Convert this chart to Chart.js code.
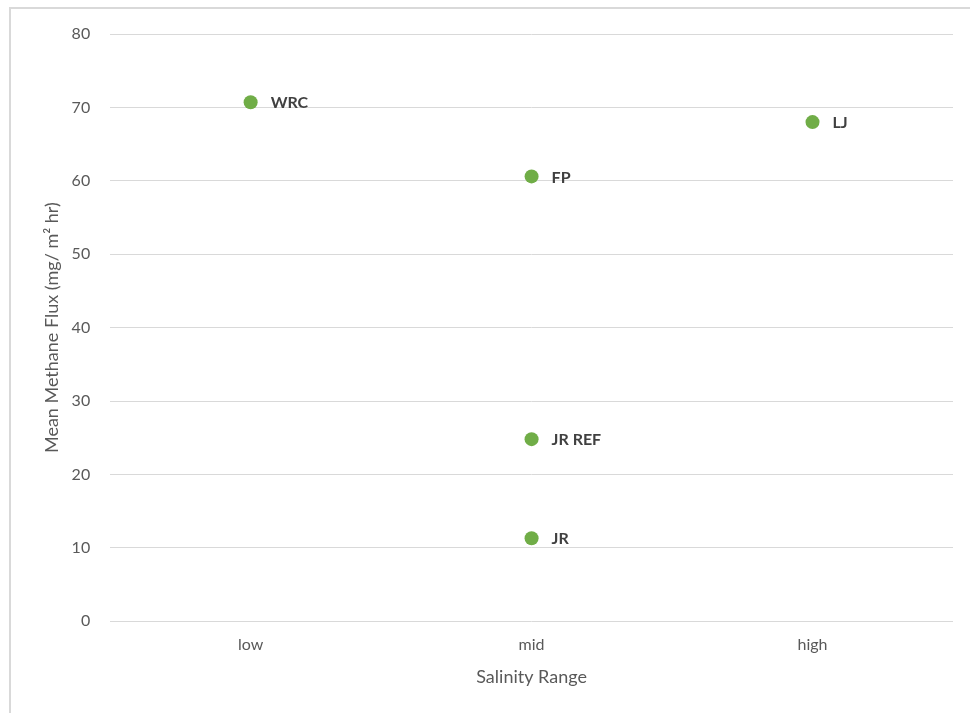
<!DOCTYPE html>
<html>
<head>
<meta charset="utf-8">
<script src="https://cdn.jsdelivr.net/npm/chart.js@4/dist/chart.umd.min.js"></script>
<style>
    html, body { margin: 0; padding: 0; background: #fff; overflow: hidden; }
    #frame {
        position: absolute; left: 9px; top: 7px;
        width: 1000px; height: 800px;
        border: 2px solid #d9d9d9;
    }
    #chart { position: absolute; left: 0; top: 0; }
</style>
</head>
<body>
<div id="frame"></div>
<canvas id="chart" width="970" height="713"></canvas>
<script>
// ==========================
// DATA
// ==========================

const categories  = ['low', 'mid', 'high'];
const siteNames   = ['WRC', 'FP', 'JR REF', 'JR', 'LJ'];
const siteRanges  = ['low', 'mid', 'mid', 'mid', 'high'];
const methaneFlux = [70.7, 60.6, 24.8, 11.3, 68.0];

const FONT_FAMILY = 'Lato, "Open Sans", sans-serif';
const TICK_FONT   = { family: FONT_FAMILY, size: 16 };
const TITLE_FONT  = { family: FONT_FAMILY, size: 18 };

// labels next to each point
const pointLabels = {
    id: 'pointLabels',
    afterDatasetsDraw(chart) {
        const ctx  = chart.ctx;
        const meta = chart.getDatasetMeta(0);
        ctx.save();
        ctx.font = 'bold 16px ' + FONT_FAMILY;
        ctx.fillStyle = '#404040';
        ctx.textAlign = 'left';
        ctx.textBaseline = 'middle';
        meta.data.forEach((pt, i) => {
            ctx.fillText(siteNames[i], pt.x + 20, pt.y + 1);
        });
        ctx.restore();
    }
};

new Chart(document.getElementById('chart'), {
    type: 'line',
    data: {
        labels: categories,
        datasets: [{
            data: siteRanges.map((r, i) => ({ x: r, y: methaneFlux[i] })),
            showLine: false,
            pointRadius: 7,
            pointHoverRadius: 7,
            pointBorderWidth: 0,
            pointBackgroundColor: '#70AD47',
            borderColor: '#70AD47'
        }]
    },
    options: {
        responsive: false,
        animation: false,
        layout: { padding: { left: 37, right: 17, top: 34, bottom: 25 } },
        plugins: {
            legend: { display: false },
            tooltip: { enabled: false }
        },
        scales: {
            x: {
                type: 'category',
                offset: true,
                grid: { display: false },
                border: { display: false },
                ticks: { color: '#595959', font: TICK_FONT, padding: 6 },
                title: {
                    display: true,
                    text: 'Salinity Range',
                    color: '#595959',
                    font: TITLE_FONT,
                    padding: { top: 6, bottom: 0 }
                }
            },
            y: {
                min: 0,
                max: 80,
                ticks: { stepSize: 10, color: '#595959', font: TICK_FONT, padding: 20 },
                grid: { color: '#d9d9d9', lineWidth: 1, drawTicks: false },
                border: { display: false },
                title: {
                    display: true,
                    text: 'Mean Methane Flux (mg/ m² hr)',
                    color: '#595959',
                    font: TITLE_FONT,
                    padding: { top: 4, bottom: -11 }
                }
            }
        }
    },
    plugins: [pointLabels]
});
</script>
</body>
</html>
